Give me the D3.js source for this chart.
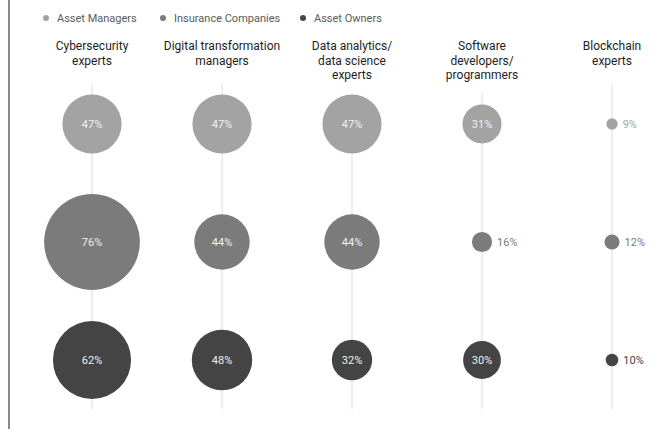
<!DOCTYPE html>
<html>
<head>
<meta charset="utf-8">
<script src="https://cdn.jsdelivr.net/npm/d3@7"></script>
<style>
  html, body { margin: 0; padding: 0; background: #fff; }
  svg { display: block; font-family: Roboto, "Noto Sans", sans-serif; }
</style>
</head>
<body>
<svg id="chart" width="661" height="429"></svg>
<script>
// Skill categories (column headers, split into lines)
const categories = [
  "Cybersecurity experts",
  "Digital transformation managers",
  "Data analytics/ data science experts",
  "Software developers/ programmers",
  "Blockchain experts"
];
const headerLines = [
  ["Cybersecurity", "experts"],
  ["Digital transformation", "managers"],
  ["Data analytics/", "data science", "experts"],
  ["Software", "developers/", "programmers"],
  ["Blockchain", "experts"]
];

// Investor types (rows)
const series = ["Asset Managers", "Insurance Companies", "Asset Owners"];
const seriesColors = ["#a3a3a3", "#7b7b7b", "#444444"];

// Share of respondents (%) per category, one array per investor type
const assetManagers      = [47, 47, 47, 31, 9];
const insuranceCompanies = [76, 44, 44, 16, 12];
const assetOwners        = [62, 48, 32, 30, 10];
const values = [assetManagers, insuranceCompanies, assetOwners];

const svg = d3.select("#chart");
const W = 661, H = 429;

// Scales
const x = d3.scalePoint().domain(categories).range([92, 612]);
const y = d3.scalePoint().domain(series).range([124, 360]);
const r = d3.scaleLinear().domain([0, 100]).range([0, 63]);
const color = d3.scaleOrdinal().domain(series).range(seriesColors);

// Left rule
svg.append("line")
  .attr("x1", 9).attr("x2", 9)
  .attr("y1", 0).attr("y2", H)
  .attr("stroke", "#8a8a8a").attr("stroke-width", 2);

// Legend
const legend = svg.append("g").selectAll("g")
  .data(series).join("g")
  .attr("transform", (d, i) => `translate(${[46, 163, 303][i]},18)`);
legend.append("circle").attr("r", 3).attr("fill", d => color(d));
legend.append("text")
  .attr("x", 11).attr("y", 4)
  .attr("font-size", 11).attr("fill", "#5a5a5a")
  .text(d => d);

// Column headers
const headers = svg.append("g").selectAll("text")
  .data(categories).join("text")
  .attr("x", d => x(d))
  .attr("text-anchor", "middle")
  .attr("font-size", 12)
  .attr("font-weight", 400)
  .attr("fill", "#1e1e1e");
headers.each(function(d, i) {
  d3.select(this).selectAll("tspan")
    .data(headerLines[i]).join("tspan")
    .attr("x", x(d))
    .attr("y", (t, j) => 50 + j * 14.5)
    .text(t => t);
});

// Vertical guide lines
svg.append("g").selectAll("line")
  .data(categories).join("line")
  .attr("x1", d => x(d)).attr("x2", d => x(d))
  .attr("y1", (d, i) => 84 + (headerLines[i].length - 2) * 9)
  .attr("y2", 409)
  .attr("stroke", "#dcdcdc").attr("stroke-width", 1);

// Bubbles
const cells = [];
series.forEach((s, si) => {
  categories.forEach((c, ci) => {
    cells.push({ series: s, category: c, value: values[si][ci] });
  });
});

const g = svg.append("g").selectAll("g")
  .data(cells).join("g")
  .attr("transform", d => `translate(${x(d.category)},${y(d.series)})`);

g.append("circle")
  .attr("r", d => r(d.value))
  .attr("fill", d => color(d.series));

g.append("text")
  .attr("x", d => r(d.value) < 15 ? r(d.value) + 5 : 0)
  .attr("y", 4)
  .attr("text-anchor", d => r(d.value) < 15 ? "start" : "middle")
  .attr("font-size", 11)
  .attr("fill", d => r(d.value) < 15 ? color(d.series) : "#f0f0f0")
  .text(d => d.value + "%");
</script>
</body>
</html>
